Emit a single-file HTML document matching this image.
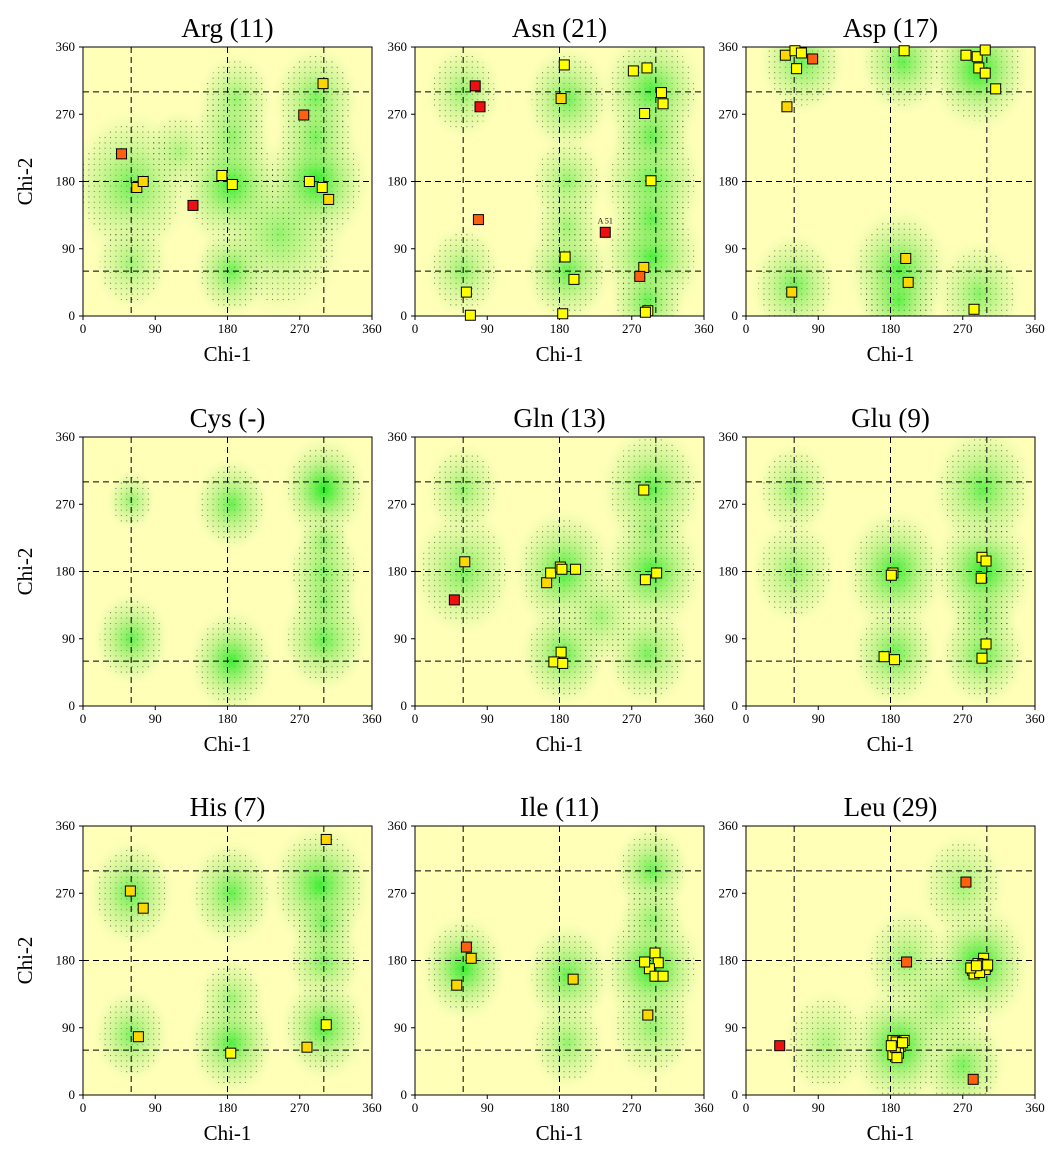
<!DOCTYPE html>
<html><head><meta charset="utf-8">
<style>
html,body{margin:0;padding:0;background:#fff;}
svg{display:block;font-family:"Liberation Serif",serif;}
</style></head>
<body>
<svg id="chart" width="1054" height="1154" viewBox="0 0 1054 1154" xmlns="http://www.w3.org/2000/svg">
<defs>
<radialGradient id="blobG"><stop offset="0" stop-color="#22ee22" stop-opacity="1"/><stop offset="0.45" stop-color="#77ee55" stop-opacity="0.7"/><stop offset="1" stop-color="#bbf088" stop-opacity="0"/></radialGradient>
<radialGradient id="haloG"><stop offset="0" stop-color="#c8f290" stop-opacity="1"/><stop offset="0.7" stop-color="#dcf8a0" stop-opacity="0.8"/><stop offset="1" stop-color="#eefcb0" stop-opacity="0"/></radialGradient>
<pattern id="dots" width="5.4" height="5.4" patternUnits="userSpaceOnUse"><rect x="2" y="2" width="1" height="1" fill="#000" opacity="0.8"/></pattern>
</defs>
</svg>
<script>
const panelTitles = ["Arg (11)","Asn (21)","Asp (17)","Cys (-)","Gln (13)","Glu (9)","His (7)","Ile (11)","Leu (29)"];
const tickValues = [0,90,180,270,360];
const dashValues = [60,180,300];
const argPts = [[48,217,"O"],[275,269,"O"],[299,311,"G"],[67,172,"G"],[75,180,"G"],[173,188,"Y"],[186,176,"Y"],[137,148,"R"],[282,180,"Y"],[298,172,"Y"],[306,156,"G"]];
const asnPts = [[75,308,"R"],[81,280,"R"],[79,129,"O"],[237,112,"R"],[186,336,"Y"],[182,291,"G"],[187,79,"Y"],[198,49,"Y"],[184,3,"Y"],[64,32,"Y"],[69,1,"Y"],[272,328,"Y"],[289,332,"Y"],[307,299,"Y"],[309,284,"Y"],[286,271,"Y"],[294,181,"Y"],[285,65,"G"],[280,53,"O"],[290,7,"Y"],[287,5,"Y"]];
const aspPts = [[49,349,"G"],[61,355,"Y"],[69,352,"Y"],[63,331,"Y"],[83,344,"O"],[51,280,"G"],[57,32,"G"],[197,355,"Y"],[274,349,"Y"],[288,347,"Y"],[298,356,"Y"],[290,332,"Y"],[298,325,"Y"],[311,304,"Y"],[199,77,"G"],[202,45,"G"],[284,9,"Y"]];
const cysPts = [];
const glnPts = [[285,289,"Y"],[62,193,"G"],[49,142,"R"],[164,165,"G"],[169,178,"Y"],[181,186,"Y"],[200,183,"Y"],[287,169,"Y"],[301,178,"Y"],[182,72,"Y"],[173,59,"Y"],[184,57,"Y"],[183,183,"Y"]];
const gluPts = [[294,199,"Y"],[299,194,"Y"],[293,171,"Y"],[183,178,"Y"],[181,175,"Y"],[172,66,"Y"],[185,62,"Y"],[299,83,"Y"],[294,64,"Y"]];
const hisPts = [[59,273,"G"],[75,250,"G"],[303,342,"G"],[303,94,"Y"],[69,78,"G"],[184,56,"Y"],[279,64,"G"]];
const ilePts = [[64,198,"O"],[70,183,"G"],[52,147,"G"],[197,155,"G"],[299,190,"Y"],[303,177,"Y"],[292,169,"Y"],[299,159,"Y"],[309,159,"Y"],[290,107,"G"],[286,178,"Y"]];
const leuPts = [[274,285,"O"],[200,178,"O"],[42,66,"R"],[283,21,"O"],
 [286,170,"Y"],[282,167,"Y"],[296,183,"Y"],[300,172,"Y"],[293,169,"Y"],[289,176,"Y"],[298,168,"Y"],[284,162,"Y"],[291,164,"Y"],[280,170,"Y"],[295,175,"Y"],[287,173,"Y"],[301,174,"Y"],
 [183,73,"Y"],[197,73,"Y"],[184,58,"Y"],[189,61,"Y"],[183,54,"Y"],[192,65,"Y"],[187,71,"Y"],[190,56,"Y"],[186,64,"Y"],[195,70,"Y"],[181,66,"Y"],[188,50,"Y"]];
const panelPoints = [argPts,asnPts,aspPts,cysPts,glnPts,gluPts,hisPts,ilePts,leuPts];
// density blobs: [chi1, chi2, radiusDeg, intensity]
const argBlobs = [[60,175,45,.45],[185,175,40,.7],[290,180,40,.85],[185,60,28,.5],[290,290,32,.45],[190,290,28,.3],[245,110,50,.3],[60,70,28,.25],[120,220,25,.2],[185,240,30,.3],[290,240,30,.4]];
const asnBlobs = [[60,300,28,.3],[60,60,28,.3],[190,290,32,.45],[190,60,32,.5],[295,300,38,.65],[295,180,38,.55],[295,80,38,.65],[290,20,28,.5],[190,180,28,.3],[295,130,30,.5],[295,240,30,.5],[190,120,25,.25]];
const aspBlobs = [[70,340,32,.45],[195,340,32,.5],[290,330,38,.8],[190,60,38,.65],[60,40,32,.45],[290,30,32,.35],[190,20,30,.5]];
const cysBlobs = [[300,290,32,.9],[300,180,28,.4],[300,90,32,.5],[185,270,28,.5],[185,60,32,.7],[60,90,28,.5],[60,275,18,.3],[300,220,20,.3],[300,140,25,.3]];
const glnBlobs = [[60,180,38,.4],[185,180,38,.65],[295,180,38,.7],[295,290,38,.55],[185,70,32,.5],[290,70,32,.4],[60,290,28,.3],[230,120,30,.25],[295,235,25,.3]];
const gluBlobs = [[185,180,38,.7],[295,180,38,.8],[295,290,38,.5],[185,70,32,.5],[295,70,32,.5],[60,180,32,.3],[60,290,28,.3],[295,120,25,.3]];
const hisBlobs = [[60,270,32,.5],[185,270,32,.5],[295,280,38,.7],[300,180,28,.4],[300,90,32,.6],[185,70,32,.6],[60,80,28,.4],[300,230,25,.4],[185,130,25,.25]];
const ileBlobs = [[60,170,32,.75],[190,160,32,.5],[295,170,38,.9],[295,300,28,.5],[190,70,28,.3],[295,90,32,.3],[295,235,25,.3]];
const leuBlobs = [[290,175,38,.9],[190,65,38,.8],[200,180,32,.3],[270,40,32,.4],[270,280,32,.25],[100,70,32,.2],[240,120,35,.2]];
const panelBlobs = [argBlobs,asnBlobs,aspBlobs,cysBlobs,glnBlobs,gluBlobs,hisBlobs,ileBlobs,leuBlobs];

const NS="http://www.w3.org/2000/svg";
const svg=document.getElementById('chart');
const colX=[83,415,746], rowY=[47,437,826], PW=289, PH=269;
const fill={Y:"#ffff00",G:"#ffd700",O:"#ff6010",R:"#ee1010"};
function mk(tag,attrs,parent){const e=document.createElementNS(NS,tag);for(const k in attrs)e.setAttribute(k,attrs[k]);(parent||svg).appendChild(e);return e;}

panelTitles.forEach((title,i)=>{
  const x0=colX[i%3], y0=rowY[Math.floor(i/3)];
  const sx=v=>x0+v/360*PW, sy=v=>y0+PH-v/360*PH;
  const g=mk('g',{});
  
  
  const cid='clip'+i;
  const cp=mk('clipPath',{id:cid},g); mk('rect',{x:x0,y:y0,width:PW,height:PH},cp);
  const bg=mk('rect',{x:x0,y:y0,width:PW,height:PH,fill:'#ffffb8'},g);
  
  
  const bl=mk('g',{'clip-path':`url(#${cid})`},g);
  panelBlobs[i].forEach(b=>{
    const r=b[2]/360*PW;
    const h=mk('ellipse',{cx:sx(b[0]),cy:sy(b[1]),rx:r*1.7,ry:r*2.1,fill:'url(#haloG)',opacity:Math.min(1,0.5+b[3])},bl);
    
    
  });
  panelBlobs[i].forEach(b=>{
    const r=b[2]/360*PW;
    const d=mk('ellipse',{cx:sx(b[0]),cy:sy(b[1]),rx:r*1.4,ry:r*1.7,fill:'url(#dots)',opacity:0.7},bl);
    
    
  });
  panelBlobs[i].forEach(b=>{
    const r=b[2]/360*PW;
    const c=mk('ellipse',{cx:sx(b[0]),cy:sy(b[1]),rx:r*1.3,ry:r*1.5,fill:'url(#blobG)',opacity:Math.min(1,b[3]*1.2)},bl);
    
    
  });
  dashValues.forEach(v=>{
    const lv=mk('line',{x1:sx(v),x2:sx(v),y1:y0,y2:y0+PH,stroke:'#000','stroke-width':1,'stroke-dasharray':'6,4'},g);
    
    
    const lh=mk('line',{x1:x0,x2:x0+PW,y1:sy(v),y2:sy(v),stroke:'#000','stroke-width':1,'stroke-dasharray':'6,4'},g);
    
    
  });
  const fr=mk('rect',{x:x0,y:y0,width:PW,height:PH,fill:'none',stroke:'#000','stroke-width':1},g);
  
  
  tickValues.forEach(v=>{
    mk('line',{x1:sx(v),x2:sx(v),y1:y0+PH,y2:y0+PH+4,stroke:'#000'},g);
    const tx=mk('text',{x:sx(v),y:y0+PH+17,'font-size':13,'text-anchor':'middle'},g);
    tx.textContent=v;
    
    
    mk('line',{x1:x0-4,x2:x0,y1:sy(v),y2:sy(v),stroke:'#000'},g);
    const ty=mk('text',{x:x0-8,y:sy(v)+4,'font-size':13,'text-anchor':'end'},g);
    ty.textContent=v;
    
    
  });
  const tt=mk('text',{x:x0+PW/2,y:y0-10,'font-size':27,'text-anchor':'middle'},g);
  tt.textContent=title;
  
  
  const xl=mk('text',{x:x0+PW/2,y:y0+PH+45,'font-size':21,'text-anchor':'middle'},g);
  xl.textContent='Chi-1';
  
  
  if(i%3===0){
    const cy=y0+PH/2;
    const yl=mk('text',{x:32,y:cy,'font-size':21,'text-anchor':'middle',transform:`rotate(-90 32 ${cy})`},g);
    yl.textContent='Chi-2';
    
    
  }
  const pg=mk('g',{},g);
  panelPoints[i].forEach(p=>{
    const r=mk('rect',{x:sx(p[0])-5,y:sy(p[1])-5,width:10,height:10,fill:fill[p[2]],stroke:'#000','stroke-width':1},pg);
    
    
  });
  if(i===1){
    const lb=mk('text',{x:sx(237),y:sy(112)-9,'font-size':8,'text-anchor':'middle'},g);
    lb.textContent='A 51';
    
    
  }
});
</script>
</body></html>
